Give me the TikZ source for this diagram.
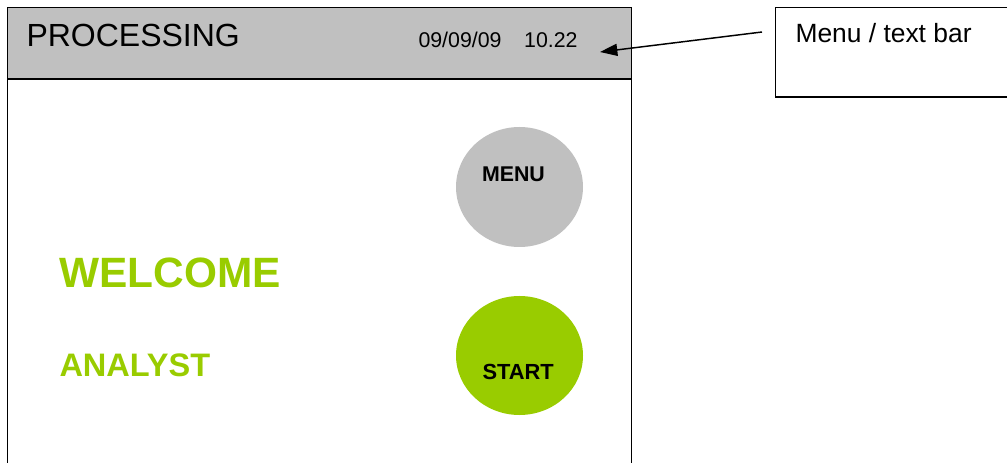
\documentclass[tikz,border=0pt]{standalone}
\usepackage{fontspec}
\setmainfont{Liberation Sans}
\usetikzlibrary{arrows.meta}

\definecolor{barGrey}{RGB}{192,192,192}
\definecolor{limeGreen}{RGB}{153,204,0}

\tikzset{every picture/.style={line width=0.75pt}}

\begin{document}
\begin{tikzpicture}[x=0.75pt,y=0.75pt,yscale=-1,xscale=1,
    frameline/.style={line width=1.3pt},
    txt/.style={anchor=base west,inner sep=0pt}]
        \useasboundingbox (0,0) rectangle (1007,463);

        %Shape: Rectangle [id:header] 
        \draw [frameline,fill=barGrey] (7.5,7.5) rectangle (631.5,79) ;
        %Shape: Rectangle [id:screen] 
        \draw [frameline] (7.5,79) -- (7.5,463.5) -- (631.5,463.5) -- (631.5,79) ;
        %Shape: Rectangle [id:callout] 
        \draw [frameline] (775.5,7.5) rectangle (1012,97) ;

        %Shape: Circle [id:menuBtn] 
        \fill [barGrey] (519.5,187) ellipse (63.5 and 60) ;
        %Shape: Circle [id:startBtn] 
        \fill [limeGreen] (519.5,355.5) ellipse (63.5 and 59.5) ;

        % Text Node
        \node (title) at (26,47) [txt,font={\fontsize{24}{28}\selectfont}] {PROCESSING};
        % Text Node
        \node (stamp) at (418,48) [txt,font={\fontsize{16}{19}\selectfont}] {09/09/09\hspace{17pt}10.22};
        % Text Node
        \node (calloutText) at (795,43) [txt,font={\fontsize{19.8}{23}\selectfont}] {Menu / text bar};
        % Text Node
        \node (welcome) at (59,288) [txt,text=limeGreen,font={\fontsize{31.8}{38}\selectfont\bfseries}] {WELCOME};
        % Text Node
        \node (analyst) at (59,377) [txt,text=limeGreen,font={\fontsize{24.4}{29}\selectfont\bfseries}] {ANALYST};
        % Text Node
        \node (menuText) at (481.5,182) [txt,font={\fontsize{16}{19}\selectfont\bfseries}] {MENU};
        % Text Node
        \node (startText) at (482,379) [txt,font={\fontsize{16.4}{19}\selectfont\bfseries}] {START};

        %Straight Lines [id:pointer] 
        \coordinate (pointerFrom) at (762,32);
        \coordinate (pointerTo) at (600,52);
        \draw [line width=1.1pt,-{Triangle[length=13pt,width=9pt]}] (pointerFrom) -- (pointerTo) ;

    \end{tikzpicture}
\end{document}
